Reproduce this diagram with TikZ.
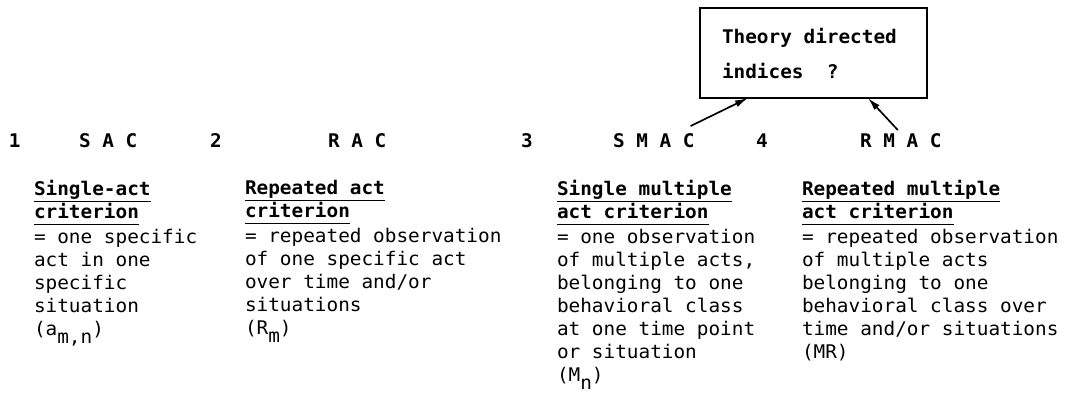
\documentclass[tikz,border=0pt]{standalone}
\usepackage{fontspec}
\setmonofont{DejaVu Sans Mono}[FakeStretch=1.03]
\usetikzlibrary{arrows.meta,calc}

% typewriter face of the table
\newcommand\typefont{\fontsize{18.8}{23}\selectfont\ttfamily}
% typed underline, same depth for every word
\newcommand\ulbar[1]{\setbox0\hbox{#1}\rlap{\rule[-7pt]{\wd0}{1pt}}\box0}
% index typed half a line lower
\newcommand\lowsub[1]{\raisebox{-8pt}{#1}}
% one line of the box, flush left
\newcommand\boxline[1]{\makebox[183pt][l]{#1}}

\begin{document}
\begin{tikzpicture}[x=1pt,y=-1pt]
  \tikzset{%
    inner sep=0pt,%
    outer sep=0pt,%
    headlabel/.style={anchor=base west,font=\typefont\bfseries},
    critblock/.style={anchor=north west,align=left,font=\typefont},
    pointer/.style={line width=1.7pt,-{Latex[length=13pt,width=7pt]}}
  }
  \useasboundingbox (0,0) rectangle (1070,396);

  % numbers and short names
  \node[headlabel] (n1) at (9,147) {1};
  \node[headlabel] (sac) at (79,147) {S A C};
  \node[headlabel] (n2) at (210,147) {2};
  \node[headlabel] (rac) at (328,147) {R A C};
  \node[headlabel] (n3) at (521,147) {3};
  \node[headlabel] (smac) at (613,147) {S M A C};
  \node[headlabel] (n4) at (756,147) {4};
  \node[headlabel] (rmac) at (860,147) {R M A C};

  % the four criteria (top of first line)
  \node[critblock] (sacdef) at (34,180)
    {\ulbar{\bfseries Single-act}\\\ulbar{\bfseries criterion}\\[2pt]
     = one specific\\act in one\\specific\\situation\\(a\lowsub{m,n})};
  \node[critblock] (racdef) at (245,180)
    {\ulbar{\bfseries Repeated act}\\\ulbar{\bfseries criterion}\\[2pt]
     = repeated observation\\of one specific act\\over time and/or\\situations\\(R\lowsub{m})};
  \node[critblock] (smacdef) at (557,180)
    {\ulbar{\bfseries Single multiple}\\\ulbar{\bfseries act criterion}\\[2pt]
     = one observation\\of multiple acts,\\belonging to one\\behavioral class\\at one time point\\or situation\\(M\lowsub{n})};
  \node[critblock] (rmacdef) at (802,180)
    {\ulbar{\bfseries Repeated multiple}\\\ulbar{\bfseries act criterion}\\[2pt]
     = repeated observation\\of multiple acts\\belonging to one\\behavioral class over\\time and/or situations\\(MR)};

  % open question box
  \node[draw,line width=1.3pt,anchor=north west,minimum width=227pt,
        minimum height=90pt,align=left,
        font=\typefont\bfseries] (theory) at (700,8)
    {\boxline{Theory directed}\\[12pt]\boxline{indices\ \ ?}};
  \draw[pointer] ($(smac.north east)+(-4,-7)$) -- ($(theory.south west)+(48,0)$);
  \draw[pointer] ($(rmac.north)+(-3,-3)$) -- ($(theory.south east)+(-59,0)$);
\end{tikzpicture}
\end{document}
